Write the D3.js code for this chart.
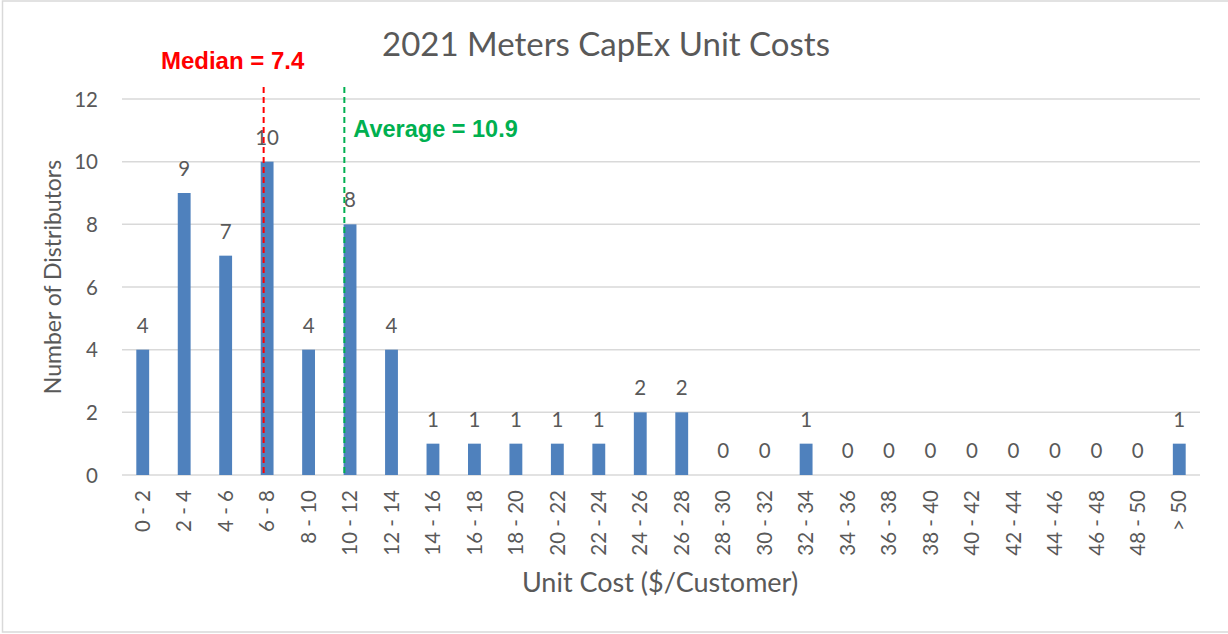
<!DOCTYPE html>
<html>
<head>
<meta charset="utf-8">
<script src="https://cdn.jsdelivr.net/npm/d3@7"></script>
<style>
  body { margin: 0; background: #fff; }
  text { font-family: Lato, "Open Sans", sans-serif; fill: #595959; }
</style>
</head>
<body>
<div id="chart"></div>
<script>
// bins and counts
var bins = ["0 - 2", "2 - 4", "4 - 6", "6 - 8", "8 - 10", "10 - 12", "12 - 14",
  "14 - 16", "16 - 18", "18 - 20", "20 - 22", "22 - 24", "24 - 26", "26 - 28",
  "28 - 30", "30 - 32", "32 - 34", "34 - 36", "36 - 38", "38 - 40", "40 - 42",
  "42 - 44", "44 - 46", "46 - 48", "48 - 50", "> 50"];
var counts = [4, 9, 7, 10, 4, 8, 4, 1, 1, 1, 1, 1, 2, 2, 0, 0, 1, 0, 0, 0, 0, 0, 0, 0, 0, 1];
var yTicks = [0, 2, 4, 6, 8, 10, 12];
var median = 7.4;
var average = 10.9;

var W = 1228, H = 634;
var margin = {top: 99, right: 28, bottom: 159, left: 122},
    width = W - margin.left - margin.right,
    height = H - margin.top - margin.bottom;

var root = d3.select("#chart")
  .append("svg")
    .attr("width", W)
    .attr("height", H);

// chart frame
root.append("rect")
  .attr("x", 2.5).attr("y", 1)
  .attr("width", W + 10).attr("height", 631)
  .attr("fill", "none")
  .attr("stroke", "#D9D9D9")
  .attr("stroke-width", 1.5);

root.append("text")
  .attr("x", 606).attr("y", 56)
  .attr("text-anchor", "middle")
  .style("font-size", "33px")
  .text("2021 Meters CapEx Unit Costs");

var svg = root.append("g")
  .attr("transform", "translate(" + margin.left + "," + margin.top + ")");

var x = d3.scaleBand()
  .domain(bins)
  .range([0, width])
  .paddingInner(0.69)
  .paddingOuter(0.345);

var y = d3.scaleLinear()
  .domain([0, 12])
  .range([height, 0]);

// value scale for the median / average markers
var v = d3.scaleLinear()
  .domain([0, 50])
  .range([-29, 1124]);

// gridlines
svg.selectAll(".grid")
  .data(yTicks)
  .enter()
  .append("line")
    .attr("x1", 0).attr("x2", width)
    .attr("y1", function(d) { return y(d); })
    .attr("y2", function(d) { return y(d); })
    .attr("stroke", "#D9D9D9")
    .attr("stroke-width", 1.5);

// Y axis
var yAxis = svg.append("g")
  .call(d3.axisLeft(y).tickValues(yTicks).tickSize(0).tickPadding(24));
yAxis.select(".domain").remove();
yAxis.selectAll("text")
  .style("font-size", "20.5px")
  .attr("dy", "0.35em");

// X axis
var xAxis = svg.append("g")
  .attr("transform", "translate(0," + height + ")")
  .call(d3.axisBottom(x).tickSize(0));
xAxis.select(".domain").remove();
xAxis.selectAll("text")
  .style("font-size", "20.5px")
  .attr("transform", "rotate(-90)")
  .attr("x", -15)
  .attr("y", 0)
  .attr("dy", "0.35em")
  .style("text-anchor", "end");

// Bars
svg.selectAll(".bar")
  .data(counts)
  .enter()
  .append("rect")
    .attr("x", function(d, i) { return x(bins[i]); })
    .attr("y", function(d) { return y(d); })
    .attr("width", x.bandwidth())
    .attr("height", function(d) { return height - y(d); })
    .attr("fill", "#4F81BD");

// data labels
svg.selectAll(".lbl")
  .data(counts)
  .enter()
  .append("text")
    .attr("x", function(d, i) { return x(bins[i]) + x.bandwidth() / 2; })
    .attr("y", function(d) { return y(d) - 17; })
    .attr("text-anchor", "middle")
    .style("font-size", "20.5px")
    .text(function(d) { return d; });

// median and average lines
svg.append("line")
  .attr("x1", v(median)).attr("x2", v(median))
  .attr("y1", -12).attr("y2", height)
  .attr("stroke", "#FF0000")
  .attr("stroke-width", 2)
  .attr("stroke-dasharray", "6,4");

svg.append("line")
  .attr("x1", v(average)).attr("x2", v(average))
  .attr("y1", -12).attr("y2", height)
  .attr("stroke", "#00B050")
  .attr("stroke-width", 2)
  .attr("stroke-dasharray", "6,4");

svg.append("text")
  .attr("x", v(median) - 31).attr("y", -30)
  .attr("text-anchor", "middle")
  .style("font-family", "'Liberation Sans', Arial, sans-serif")
  .style("font-weight", "bold")
  .style("font-size", "24px")
  .style("fill", "#FF0000")
  .text("Median = " + median);

svg.append("text")
  .attr("x", v(average) + 9).attr("y", 38)
  .style("font-family", "'Liberation Sans', Arial, sans-serif")
  .style("font-weight", "bold")
  .style("font-size", "23.5px")
  .style("fill", "#00B050")
  .text("Average = " + average);

// axis titles
root.append("text")
  .attr("x", 660).attr("y", 592)
  .attr("text-anchor", "middle")
  .style("font-size", "27px")
  .text("Unit Cost ($/Customer)");

root.append("text")
  .attr("transform", "translate(61,277) rotate(-90)")
  .attr("text-anchor", "middle")
  .style("font-size", "23px")
  .text("Number of Distributors");
</script>
</body>
</html>
